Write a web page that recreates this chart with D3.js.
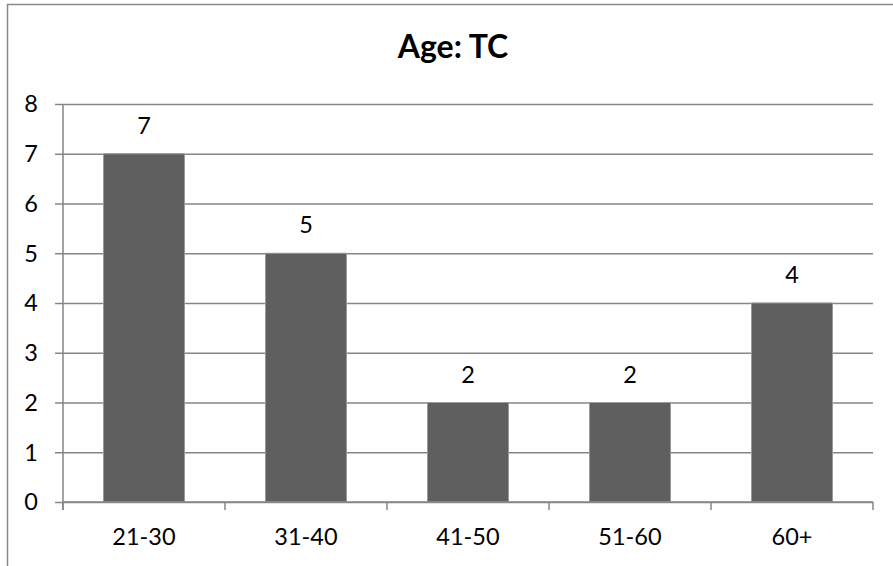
<!DOCTYPE html>
<html>
<head>
<meta charset="utf-8">
<script src="https://cdn.jsdelivr.net/npm/d3@7"></script>
<style>
  html, body { margin: 0; padding: 0; background: #fff; }
  svg { display: block; }
  text { font-family: Lato, "Open Sans", "DejaVu Sans", sans-serif; fill: #000; }
</style>
</head>
<body>
<svg id="chart" width="893" height="566"></svg>
<script>
// Age groups and respondent counts
const categories = ["21-30", "31-40", "41-50", "51-60", "60+"];
const counts = [7, 5, 2, 2, 4];
const yTicks = [0, 1, 2, 3, 4, 5, 6, 7, 8];
const title = "Age: TC";

const W = 893, H = 566;
const plot = { left: 63, right: 873, top: 104, bottom: 502 };
const gridColor = "#868686";
const barColor = "#5f5f5f";

const svg = d3.select("#chart");

// Chart frame (top and left edges visible)
svg.append("path")
  .attr("d", `M7.5,${H} V4.5 H${W}`)
  .attr("fill", "none")
  .attr("stroke", "#8a8a8a")
  .attr("stroke-width", 1.5);

svg.append("text")
  .attr("x", 453)
  .attr("y", 58)
  .attr("text-anchor", "middle")
  .attr("font-size", 32)
  .attr("font-weight", "bold")
  .text(title);

const x = d3.scaleBand()
  .domain(categories)
  .range([plot.left, plot.right])
  .paddingInner(0.5)
  .paddingOuter(0.25);

const y = d3.scaleLinear()
  .domain([0, 8])
  .range([plot.bottom, plot.top]);

// Horizontal gridlines with short tick marks left of the axis
const yAxis = d3.axisLeft(y)
  .tickValues(yTicks)
  .tickSize(-(plot.right - plot.left))
  .tickPadding(0)
  .tickFormat("");
const yg = svg.append("g")
  .attr("transform", `translate(${plot.left},0)`)
  .call(yAxis);
yg.select(".domain").remove();
yg.selectAll(".tick line")
  .attr("x1", -8)
  .attr("stroke", gridColor)
  .attr("stroke-width", 1.5);

svg.append("g").selectAll("text")
  .data(yTicks)
  .join("text")
  .attr("x", 38)
  .attr("y", d => y(d))
  .attr("dy", "0.36em")
  .attr("text-anchor", "end")
  .attr("font-size", 23.5)
  .text(d => d);

// Vertical axis line
svg.append("line")
  .attr("x1", plot.left).attr("x2", plot.left)
  .attr("y1", plot.top).attr("y2", plot.bottom + 8)
  .attr("stroke", gridColor)
  .attr("stroke-width", 1.5);

// Bars
svg.append("g").selectAll("rect")
  .data(counts)
  .join("rect")
  .attr("x", (d, i) => x(categories[i]))
  .attr("y", d => y(d))
  .attr("width", x.bandwidth())
  .attr("height", d => y(0) - y(d))
  .attr("fill", barColor)
  .attr("stroke", "#9a9a9a")
  .attr("stroke-width", 1);

// Category axis with tick marks between bands
const xg = svg.append("g").attr("transform", `translate(0,${plot.bottom})`);
xg.append("line")
  .attr("x1", plot.left).attr("x2", plot.right)
  .attr("stroke", gridColor)
  .attr("stroke-width", 1.5);
const step = x.step();
const bounds = d3.range(categories.length + 1).map(i => plot.left + i * step);
xg.selectAll("line.sep")
  .data(bounds)
  .join("line")
  .attr("class", "sep")
  .attr("x1", d => d).attr("x2", d => d)
  .attr("y1", 0).attr("y2", 8)
  .attr("stroke", gridColor)
  .attr("stroke-width", 1.5);

svg.append("g").selectAll("text")
  .data(categories)
  .join("text")
  .attr("x", d => x(d) + x.bandwidth() / 2)
  .attr("y", 545)
  .attr("text-anchor", "middle")
  .attr("font-size", 23.5)
  .text(d => d);

// Value labels above bars
svg.append("g").selectAll("text")
  .data(counts)
  .join("text")
  .attr("x", (d, i) => x(categories[i]) + x.bandwidth() / 2)
  .attr("y", d => y(d) - 20)
  .attr("text-anchor", "middle")
  .attr("font-size", 23.5)
  .text(d => d);
</script>
</body>
</html>
